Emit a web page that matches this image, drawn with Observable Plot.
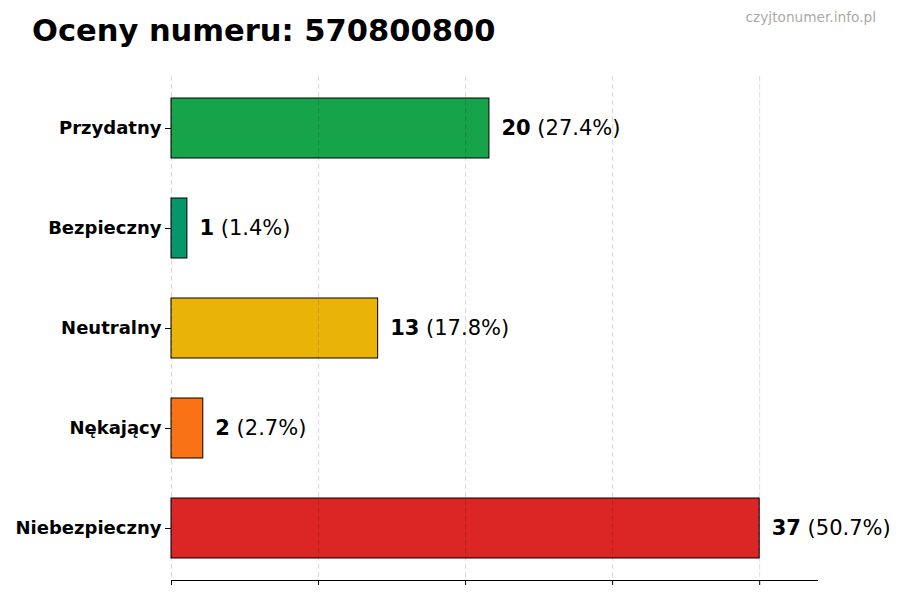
<!DOCTYPE html>
<html><head><meta charset="utf-8">
<script src="https://cdn.jsdelivr.net/npm/d3@7"></script>
<script src="https://cdn.jsdelivr.net/npm/@observablehq/plot@0.6"></script>
<style>
body{margin:0;background:#fff;font-family:"DejaVu Sans",sans-serif;}
#wrap{position:relative;width:900px;height:600px;}
#title{position:absolute;left:32px;top:13px;font-size:30.5px;font-weight:bold;color:#000;}
#wm{position:absolute;right:24px;top:9px;font-size:13.7px;color:#aaa;}
#chart{position:absolute;left:0;top:0;}
</style></head>
<body>
<div id="wrap"><div id="chart"></div><div id="title">Oceny numeru: 570800800</div><div id="wm">czyjtonumer.info.pl</div></div>
<script>
const categories = ["Przydatny","Bezpieczny","Neutralny","Nękający","Niebezpieczny"];
const counts = [20, 1, 13, 2, 37];
const percents = ["27.4%","1.4%","17.8%","2.7%","50.7%"];
const colors = ["#16a34a","#059669","#eab308","#f97316","#dc2626"];
const xTicks = [0, 9.25, 18.5, 27.75, 37];
const xMax = 40.7;

const data = categories.map((c,i)=>({cat:c, n:counts[i], col:colors[i], label:`${counts[i]} (${percents[i]})`}));

const plot = Plot.plot({
  width: 900, height: 600,
  marginLeft: 171, marginRight: 82, marginTop: 76, marginBottom: 20,
  style:{fontFamily:"DejaVu Sans", background:"#fff"},
  x: {domain:[0, xMax]},
  y: {domain:categories, paddingInner:0.4, paddingOuter:0.22},
  marks: [
    Plot.barX(data, {y:"cat", x:"n", fill:"col", stroke:"#000", strokeWidth:1}),
    Plot.gridX(xTicks, {stroke:"#000", strokeOpacity:0.15, strokeDasharray:"5,3", strokeWidth:1}),
    Plot.axisY({label:null, tickSize:6, tickPadding:4, fontSize:18, fontWeight:"bold", fill:"#000", stroke:"#000"}),
    Plot.axisX(xTicks, {label:null, tickSize:5, tickFormat:()=>"", stroke:"#000"}),
    Plot.text(data, {y:"cat", x:"n", text:"label", textAnchor:"start", dx:12, fontSize:21, fill:"#000", className:"vals"})
  ]
});
document.getElementById("chart").appendChild(plot);
const svg = d3.select(plot);
const xs = plot.scale("x");
svg.append("line").attr("x1", xs.apply(0)).attr("x2", xs.apply(xMax))
  .attr("y1", 580.5).attr("y2", 580.5).attr("stroke","#000").attr("stroke-width",1.2);
svg.selectAll(".vals text").each(function(){
  const t = d3.select(this); const s = t.text(); const k = s.indexOf(" ");
  t.text(null);
  t.append("tspan").attr("font-weight","bold").text(s.slice(0,k));
  t.append("tspan").text(s.slice(k));
});
</script>
</body></html>
